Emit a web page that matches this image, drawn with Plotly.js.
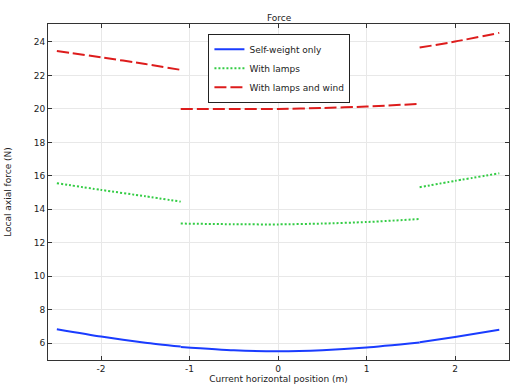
<!DOCTYPE html>
<html>
<head>
<meta charset="utf-8">
<script src="https://cdn.plot.ly/plotly-3.0.1.min.js"></script>
<style>html,body{margin:0;padding:0;background:#fff}#chart{width:515px;height:386px}</style>
</head>
<body>
<div id="chart"></div>
<script>
// Sample positions (m); null separates the three cable segments
const xPos = [-2.5, -2.0, -1.5, -1.1, null, -1.1, -0.5, 0.0, 0.5, 1.0, 1.6, null, 1.6, 2.0, 2.5];
const selfWeight = [6.84, 6.40, 6.03, 5.80, null, 5.78, 5.58, 5.52, 5.58, 5.74, 6.04, null, 6.06, 6.38, 6.81];
const withLamps = [15.56, 15.16, 14.78, 14.46, null, 13.15, 13.11, 13.10, 13.15, 13.24, 13.42, null, 15.32, 15.70, 16.15];
const withLampsWind = [23.46, 23.08, 22.68, 22.33, null, 20.00, 19.99, 20.00, 20.05, 20.14, 20.30, null, 23.66, 24.02, 24.54];
const seriesNames = ['Self-weight only', 'With lamps', 'With lamps and wind'];
const xTicks = [-2, -1, 0, 1, 2];
const yTicks = [6, 8, 10, 12, 14, 16, 18, 20, 22, 24];

const font = {family: 'DejaVu Sans, sans-serif', size: 9, color: '#222'};
const traces = [
  {x: xPos, y: selfWeight, name: seriesNames[0], mode: 'lines', connectgaps: false,
   line: {color: '#1a3cff', width: 2, shape: 'spline', smoothing: 0.6}},
  {x: xPos, y: withLamps, name: seriesNames[1], mode: 'lines', connectgaps: false,
   line: {color: '#33cc44', width: 2, dash: '2px,2px', shape: 'spline', smoothing: 0.6}},
  {x: xPos, y: withLampsWind, name: seriesNames[2], mode: 'lines', connectgaps: false,
   line: {color: '#dd1c1c', width: 2, dash: '12px,4px', shape: 'spline', smoothing: 0.6}}
];
const axisCommon = {
  showline: true, linecolor: '#333', linewidth: 1, mirror: 'ticks',
  ticks: 'inside', ticklen: 4, tickcolor: '#333', tickwidth: 1,
  showgrid: true, gridcolor: '#e8e8e8', gridwidth: 1, zeroline: false,
  tickfont: font
};
const layout = {
  width: 515, height: 386,
  margin: {l: 48, r: 6, t: 24, b: 26},
  paper_bgcolor: '#fff', plot_bgcolor: '#fff',
  font: font,
  title: {text: 'Force', font: font, x: 0.542, xanchor: 'center', y: 0.955, yanchor: 'middle'},
  xaxis: Object.assign({}, axisCommon, {
    range: [-2.6, 2.61], tickvals: xTicks, ticktext: xTicks.map(String),
    title: {text: 'Current horizontal position (m)', font: font, standoff: 2}
  }),
  yaxis: Object.assign({}, axisCommon, {
    range: [5.0, 25.07], tickvals: yTicks, ticktext: yTicks.map(String),
    title: {text: 'Local axial force (N)', font: font, standoff: 20}
  }),
  showlegend: true,
  legend: {
    x: 0.348, y: 0.971, xanchor: 'left', yanchor: 'top',
    bgcolor: '#fff', bordercolor: '#222', borderwidth: 1,
    font: font, tracegroupgap: 0
  },
  shapes: [{
    type: 'rect', xref: 'paper', yref: 'paper', layer: 'above',
    x0: (211 - 48) / 461, x1: (349 - 48) / 461,
    y0: (360 - 100) / 336, y1: (360 - 37) / 336,
    fillcolor: '#666', line: {width: 0}
  }]
};
Plotly.newPlot('chart', traces, layout, {displayModeBar: false, staticPlot: true});
</script>
</body>
</html>
